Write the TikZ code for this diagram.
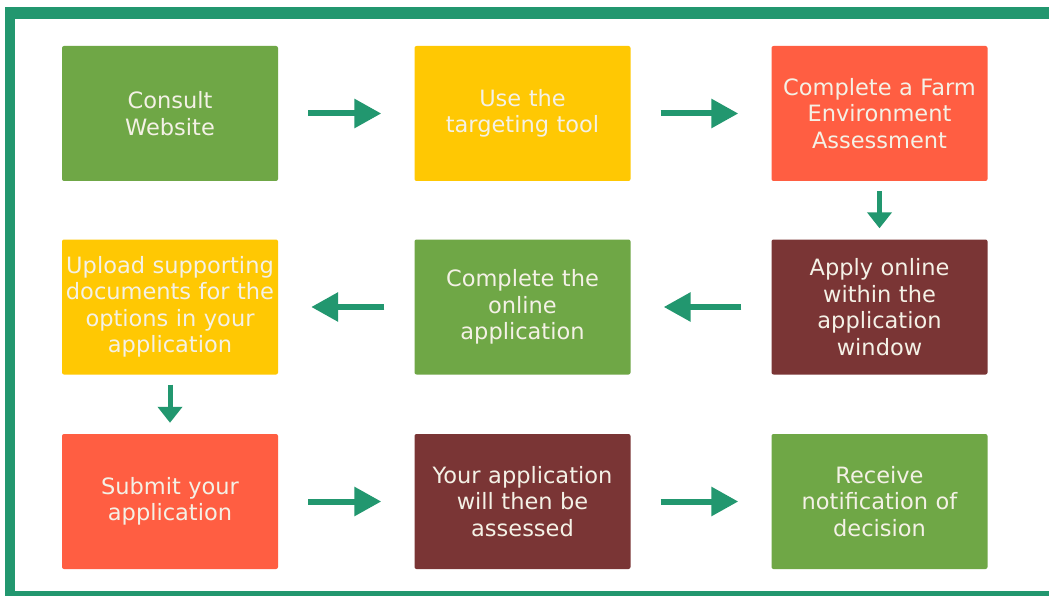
\documentclass[tikz,border=0pt]{standalone}
\usepackage{fontspec}
\setmainfont{DejaVu Sans}
\usetikzlibrary{arrows.meta}
\definecolor{frame}{HTML}{22976F}
\definecolor{cgreen}{HTML}{6FA746}
\definecolor{cyellow}{HTML}{FFC803}
\definecolor{cred}{HTML}{FF5E42}
\definecolor{cmaroon}{HTML}{7A3535}
\definecolor{ctext}{HTML}{F4F1E6}
\tikzset{
  stepbox/.style={rectangle, rounded corners=2pt, minimum width=216pt, minimum height=135pt,
    text width=212pt, align=center, inner sep=0pt, text=ctext,
    font=\fontsize{22.5}{26.5}\selectfont},
  harrow/.style={draw=frame, line width=6pt, -{Triangle[length=27pt,width=28pt]},
    shorten <=30pt, shorten >=33pt},
  varrow/.style={draw=frame, line width=5pt, -{Triangle[length=16pt,width=24pt]},
    shorten <=10pt, shorten >=11pt}
}
\begin{document}
\begin{tikzpicture}[x=1pt,y=-1pt]
\useasboundingbox (0,0) rectangle (1049,596);
\fill[white] (0,0) rectangle (1049,596);
% frame
\fill[frame] (5,7) rectangle (1049,19);
\fill[frame] (5,7) rectangle (15,596);
\fill[frame] (5,591) rectangle (1049,596);
% boxes
\node[stepbox, fill=cgreen]   (b1) at (170,113.5) {Consult\\Website};
\node[stepbox, fill=cyellow]  (b2) at (522.5,113.5) {Use the\\targeting tool};
\node[stepbox, fill=cred]     (b3) at (879.5,113.5) {Complete a Farm\\Environment\\Assessment};
\node[stepbox, fill=cmaroon]  (b4) at (879.5,307) {Apply online\\within the\\application\\window};
\node[stepbox, fill=cgreen]   (b5) at (522.5,307) {Complete the\\online\\application};
\node[stepbox, fill=cyellow]  (b6) at (170,307) {Upload supporting\\documents for the\\options in your\\application};
\node[stepbox, fill=cred]     (b7) at (170,501.5) {Submit your\\application};
\node[stepbox, fill=cmaroon]  (b8) at (522.5,501.5) {Your application\\will then be\\assessed};
\node[stepbox, fill=cgreen]   (b9) at (879.5,501.5) {Receive\\notification of\\decision};
% connectors
\draw[harrow] (b1) -- (b2);
\draw[harrow] (b2) -- (b3);
\draw[varrow] (b3) -- (b4);
\draw[harrow] (b4) -- (b5);
\draw[harrow] (b5) -- (b6);
\draw[varrow] (b6) -- (b7);
\draw[harrow] (b7) -- (b8);
\draw[harrow] (b8) -- (b9);
\end{tikzpicture}
\end{document}
